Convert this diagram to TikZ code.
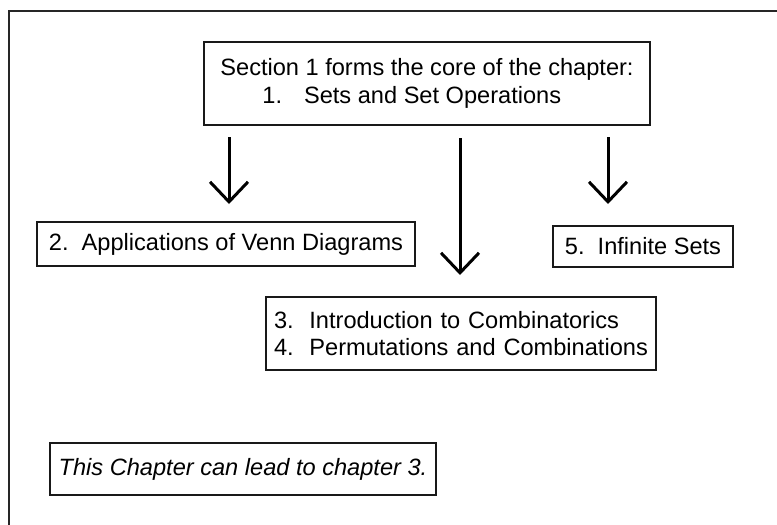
\documentclass[tikz,border=0pt]{standalone}
\usepackage{fontspec}
\setmainfont{Liberation Sans}
\usetikzlibrary{arrows.meta}
\begin{document}
\begin{tikzpicture}[x=1pt,y=-1pt,
  box/.style={draw=black!90, line width=2.3pt, inner xsep=0pt, inner ysep=0pt,
    font=\fontsize{23.6}{28}\selectfont, align=left},
  arr/.style={line width=3pt, draw=black,
    -{Straight Barb[length=20pt,width=38pt,line width=3pt]}},
  frame/.style={line width=2.6pt, draw=black!85}
]
\useasboundingbox[fill=white] (0,0) rectangle (777,525);
% outer frame (cut by the page edge)
\coordinate (fbl) at (9,525);
\coordinate (ftl) at (9,11);
\coordinate (ftr) at (777,11);
\draw[frame] (fbl) -- (ftl) -- (ftr);

% boxes
\node[box, minimum width=446pt, minimum height=83pt] (top) at (427,83.5)
  {Section 1 forms the core of the chapter:\\
   \hspace*{42pt}1.\hspace{22pt}Sets and Set Operations};
\node[box, minimum width=378pt, minimum height=44pt] (venn) at (226,244)
  {2.\ \ Applications of Venn Diagrams};
\node[box, minimum width=180pt, minimum height=41pt] (inf) at (643,246.5)
  {5.\ \ Infinite Sets};
\node[box, minimum width=390pt, minimum height=73pt, text width=374pt,
  font=\fontsize{23.6}{27}\selectfont] (comb) at (461,333.5)
  {3.\ \ Introduction to Combinatorics\\
   4.\ \ Permutations and Combinations};
\node[box, minimum width=386pt, minimum height=52pt,
  font=\fontsize{23.6}{28}\selectfont\itshape] (lead) at (243,469)
  {This Chapter can lead to chapter 3.};

% arrows
\coordinate (s1) at (229,137);
\coordinate (e1) at (229,204);
\coordinate (s2) at (460,138);
\coordinate (e2) at (460,275);
\coordinate (s3) at (608,137);
\coordinate (e3) at (608,204);
\draw[arr] (s1) -- (e1);
\draw[arr] (s2) -- (e2);
\draw[arr] (s3) -- (e3);
\end{tikzpicture}
\end{document}
